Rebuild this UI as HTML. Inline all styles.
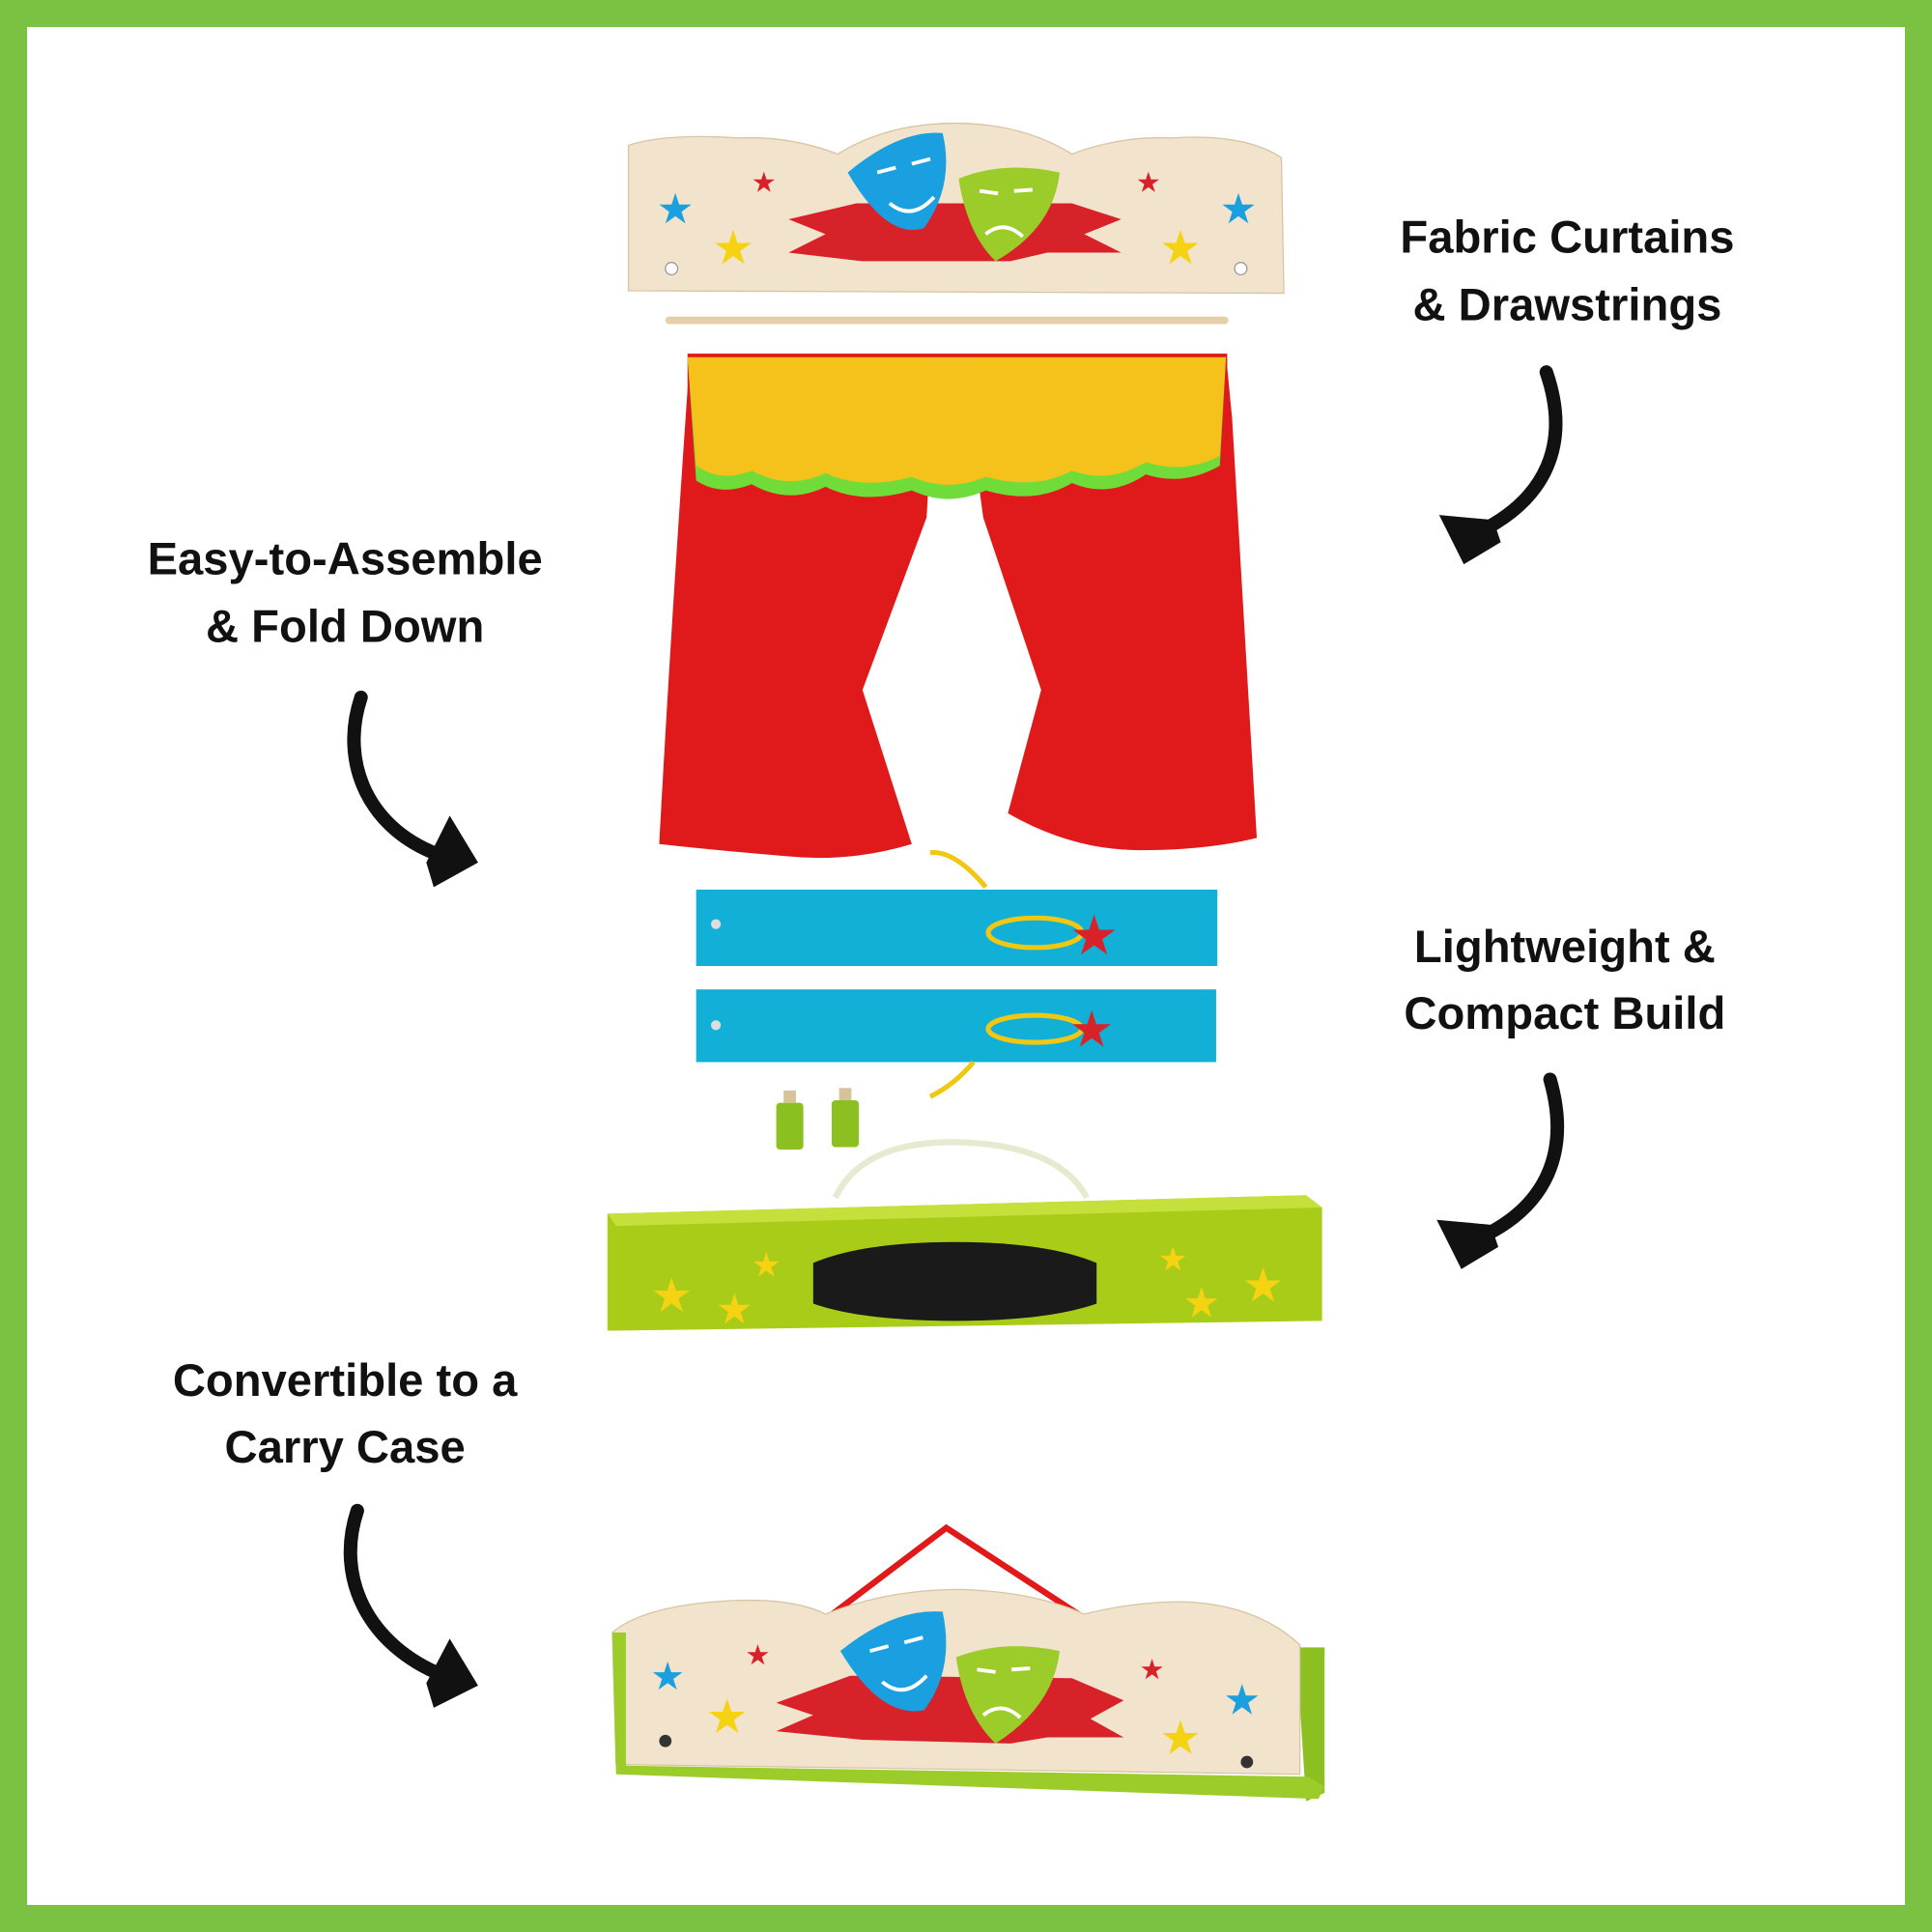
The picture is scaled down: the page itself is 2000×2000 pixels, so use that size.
<!DOCTYPE html>
<html><head><meta charset="utf-8"><style>
html,body{margin:0;padding:0;background:#fff}
svg{display:block}
text{font-family:"Liberation Sans",sans-serif;font-weight:bold;fill:#111;font-size:37px;text-anchor:middle}
</style></head><body>
<svg width="2000" height="2000" viewBox="0 0 1568 1568" xmlns="http://www.w3.org/2000/svg">
<rect x="0" y="0" width="1568" height="1568" fill="#7cc242"/>
<rect x="22" y="22" width="1524" height="1524" fill="#fff"/>

<text x="1272" y="205">Fabric Curtains</text>
<text x="1272" y="260">&amp; Drawstrings</text>
<text x="280" y="466">Easy-to-Assemble</text>
<text x="280" y="521">&amp; Fold Down</text>
<text x="1270" y="781">Lightweight &amp;</text>
<text x="1270" y="835">Compact Build</text>
<text x="280" y="1133">Convertible to a</text>
<text x="280" y="1187">Carry Case</text>

<g fill="none" stroke="#111" stroke-width="11" stroke-linecap="round" stroke-linejoin="round">
<path d="M1255 302 C1275 360 1255 405 1200 432"/>
<path d="M293 566 C275 620 300 675 360 695"/>
<path d="M1258 876 C1275 935 1255 980 1200 1005"/>
<path d="M290 1226 C272 1280 298 1335 360 1360"/>
</g>
<g fill="#111">
<path d="M1168 418 L1188 458 L1218 440 L1212 422 Z"/>
<path d="M1166 990 L1186 1030 L1216 1012 L1210 994 Z"/>
<path d="M365 662 L388 700 L352 720 L346 700 Z"/>
<path d="M365 1330 L388 1368 L352 1386 L346 1366 Z"/>
</g>

<path d="M510 118 Q540 108 600 112 Q640 110 680 125 Q720 100 775 100 Q830 100 870 125 Q910 110 950 112 Q1010 108 1040 128 L1042 238 L510 236 Z" fill="#f1e3cc" stroke="#d8c4a4"/>
<path d="M640 178 L695 165 L870 165 L910 178 L880 190 L910 205 L850 205 L820 212 L700 212 L640 205 L670 190 Z" fill="#d8222a"/>
<path d="M688 140 Q730 105 765 108 Q775 150 750 185 Q720 195 688 140Z" fill="#1aa0e0"/>
<path d="M778 145 Q815 130 860 140 Q855 185 808 212 Q785 190 778 145Z" fill="#9ccc2a"/>
<g fill="none" stroke="#fff" stroke-width="3"><path d="M712 140 l15 -4 M740 133 l15 -4 M722 165 Q740 180 758 160"/><path d="M795 155 l15 2 M823 155 l15 -1 M800 190 Q815 178 830 192"/></g>
<circle cx="545" cy="218" r="5" fill="#fff" stroke="#999"/><circle cx="1007" cy="218" r="5" fill="#fff" stroke="#999"/>
<text x="548" y="180" style="fill:#1aa0e0;font-size:30px">★</text>
<text x="595" y="213" style="fill:#f5d312;font-size:34px">★</text>
<text x="620" y="155" style="fill:#d8222a;font-size:20px">★</text>
<text x="932" y="155" style="fill:#d8222a;font-size:20px">★</text>
<text x="958" y="213" style="fill:#f5d312;font-size:34px">★</text>
<text x="1005" y="180" style="fill:#1aa0e0;font-size:30px">★</text>
<rect x="540" y="257" width="457" height="6" rx="3" fill="#e6cfa8"/>

<rect x="558" y="287" width="438" height="60" fill="#e01a1a"/>
<path d="M560 288 L760 288 L752 420 L700 560 L740 685 Q690 700 640 695 Q580 690 535 685 Q545 500 560 288Z" fill="#e01a1a"/>
<path d="M780 288 L995 288 L1000 340 L1020 680 Q980 690 925 690 Q870 690 818 660 L845 560 L798 420 Z" fill="#e01a1a"/>
<path d="M558 290 L995 290 L990 378 Q960 395 930 385 Q900 405 870 392 Q840 410 800 398 Q770 412 740 398 Q700 410 670 395 Q640 410 610 393 Q585 403 565 390 Z" fill="#6fdc3a"/>
<path d="M558 290 L995 290 L990 370 Q960 385 930 375 Q900 393 870 382 Q840 398 800 387 Q770 400 740 387 Q700 398 670 384 Q640 398 610 382 Q585 392 565 378 Z" fill="#f5c21c"/>

<rect x="565" y="722" width="423" height="62" fill="#12b0d6"/>
<rect x="565" y="803" width="422" height="59" fill="#12b0d6"/>
<circle cx="581" cy="750" r="4" fill="#ddd"/><circle cx="581" cy="832" r="4" fill="#ddd"/>
<g fill="none" stroke="#f0c814" stroke-width="4">
<path d="M755 692 Q775 690 800 720"/><ellipse cx="840" cy="757" rx="38" ry="12"/>
<ellipse cx="840" cy="835" rx="38" ry="11"/><path d="M755 890 Q775 880 790 862"/>
</g>
<text x="888" y="773" style="fill:#d8222a;font-size:40px">★</text>
<text x="886" y="848" style="fill:#d8222a;font-size:36px">★</text>

<rect x="630" y="895" width="22" height="38" rx="3" fill="#8cc020"/>
<rect x="675" y="893" width="22" height="38" rx="3" fill="#8cc020"/>
<rect x="636" y="885" width="10" height="10" fill="#d8c29a"/><rect x="681" y="883" width="10" height="10" fill="#d8c29a"/>

<path d="M678 972 Q700 925 780 927 Q860 930 882 972" fill="none" stroke="#e6ead0" stroke-width="5"/>
<path d="M493 985 L1060 970 L1073 980 L1073 1072 L493 1080 Z" fill="#a8cc18"/>
<path d="M493 985 L1060 970 L1073 980 L500 995 Z" fill="#c5e03a"/>
<path d="M660 1025 Q700 1008 775 1008 Q850 1008 890 1025 L890 1058 Q850 1072 775 1072 Q700 1072 660 1058Z" fill="#1a1a1a"/>
<text x="545" y="1063" style="fill:#f5d312;font-size:34px">★</text>
<text x="596" y="1073" style="fill:#f5d312;font-size:30px">★</text>
<text x="622" y="1035" style="fill:#f5d312;font-size:24px">★</text>
<text x="952" y="1030" style="fill:#f5d312;font-size:24px">★</text>
<text x="975" y="1068" style="fill:#f5d312;font-size:30px">★</text>
<text x="1025" y="1055" style="fill:#f5d312;font-size:34px">★</text>

<path d="M665 1318 L768 1240 L898 1325" fill="none" stroke="#e01a1a" stroke-width="5"/>
<path d="M1052 1337 L1075 1337 L1075 1455 L1060 1462 Z" fill="#8cc020"/>
<path d="M497 1325 Q520 1305 580 1300 Q640 1295 670 1310 Q720 1290 780 1290 Q840 1292 880 1310 Q920 1300 960 1300 Q1020 1302 1055 1335 L1055 1440 L500 1432 Z" fill="#f1e3cc" stroke="#d8c4a4"/>
<path d="M497 1325 L508 1325 L508 1433 L1062 1442 L1075 1450 L1070 1460 L500 1440 Z" fill="#9ccc2a"/>
<path d="M630 1382 L690 1360 L870 1362 L912 1380 L885 1395 L912 1410 L850 1410 L820 1415 L700 1412 L630 1405 L660 1392 Z" fill="#d8222a"/>
<path d="M682 1340 Q725 1305 765 1308 Q775 1355 750 1388 Q715 1395 682 1340Z" fill="#1aa0e0"/>
<path d="M776 1345 Q815 1330 860 1340 Q855 1385 808 1415 Q782 1390 776 1345Z" fill="#9ccc2a"/>
<g fill="none" stroke="#fff" stroke-width="3"><path d="M706 1340 l15 -4 M734 1333 l15 -4 M716 1365 Q734 1380 752 1360"/><path d="M793 1355 l15 2 M821 1355 l15 -1 M798 1392 Q813 1380 828 1394"/></g>
<circle cx="540" cy="1413" r="5" fill="#333"/><circle cx="1012" cy="1430" r="5" fill="#333"/>
<text x="542" y="1370" style="fill:#1aa0e0;font-size:28px">★</text>
<text x="590" y="1405" style="fill:#f5d312;font-size:34px">★</text>
<text x="615" y="1350" style="fill:#d8222a;font-size:20px">★</text>
<text x="935" y="1362" style="fill:#d8222a;font-size:20px">★</text>
<text x="958" y="1422" style="fill:#f5d312;font-size:34px">★</text>
<text x="1008" y="1390" style="fill:#1aa0e0;font-size:30px">★</text>
</svg>
</body></html>
